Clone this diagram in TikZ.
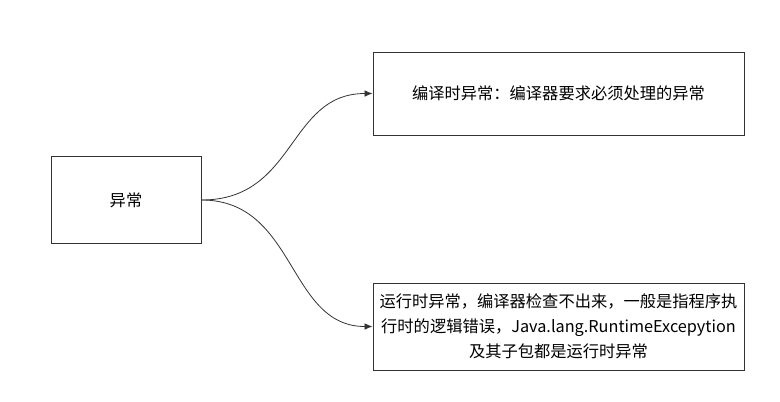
\documentclass[tikz,border=0pt]{standalone}
\usepackage{fontspec}
\setmainfont{Noto Sans CJK SC}
\usetikzlibrary{arrows.meta}

\definecolor{edgegray}{HTML}{333333}

\begin{document}
\begin{tikzpicture}[
    x=0.75pt, y=-0.75pt,
    % --- Styles ---
    % Plain boxes with thin dark border
    box node/.style={draw=edgegray, line width=0.75pt, fill=white, inner sep=0pt,
        font=\fontsize{12.2pt}{18.75pt}\selectfont, align=center},
    % Curved arrows from the root box
    branch line/.style={draw=black!80, line width=0.6pt, -{Latex[length=6pt,width=5pt]}}
]

%================CONFIGURATION================
\def\boxW{371}
\def\boxH{83}
%=============================================

% Canvas size
\useasboundingbox (0,0) rectangle (780,401);

% --- Root box ---
\node[box node, minimum width=150*0.75pt, minimum height=87*0.75pt] (root) at (126,200) {异常};

% --- Checked exceptions ---
\node[box node, minimum width=\boxW*0.75pt, minimum height=\boxH*0.75pt] (checked) at (558.5,93.5)
    {编译时异常：编译器要求必须处理的异常};

% --- Runtime exceptions ---
\node[box node, minimum width=\boxW*0.75pt, minimum height=87*0.75pt] (runtime) at (558.5,326.5)
    {运行时异常，编译器检查不出来，一般是指程序执\\
     行时的逻辑错误，Java.lang.RuntimeExcepytion\\
     及其子包都是运行时异常};

% --- Connectors ---
\draw[branch line] (root.east) .. controls +(95,0) and +(-85,0) .. (checked.west);
\draw[branch line] (root.east) .. controls +(95,0) and +(-85,0) .. (runtime.west);

\end{tikzpicture}
\end{document}
